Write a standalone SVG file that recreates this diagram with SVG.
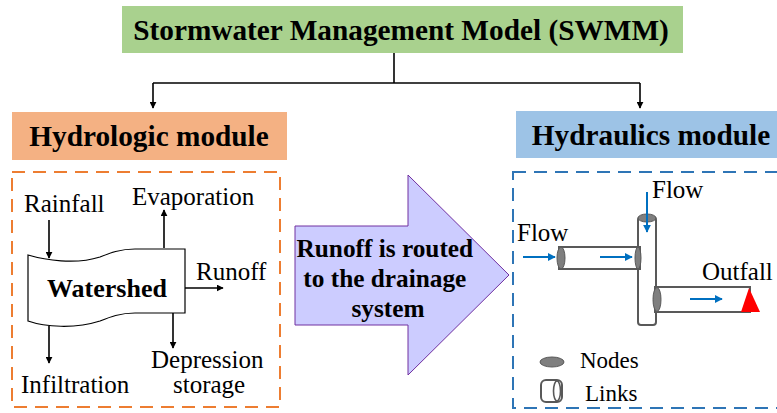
<svg xmlns="http://www.w3.org/2000/svg" width="777" height="413" viewBox="0 0 777 413">
  <style>
    .t { font-family: "Liberation Serif", serif; fill: #000; }
    .b { font-weight: bold; }
    .h { font-size: 29.3px; font-weight: bold; }
    .n { font-size: 25px; }
    .s { font-size: 23px; }
    .blk { stroke: #000; stroke-width: 1.6; fill: none; }
    .blu { stroke: #0070C0; stroke-width: 2; fill: none; }
    .pipe { fill: #fff; stroke: #595959; stroke-width: 2; }
    .node { fill: #7F7F7F; stroke: #595959; stroke-width: 1; }
  </style>
  <defs>
    <marker id="ah" viewBox="0 0 10 10" refX="9" refY="5" markerWidth="7" markerHeight="7" markerUnits="userSpaceOnUse" orient="auto">
      <path d="M0,0 L10,5 L0,10 Z" fill="#000"/>
    </marker>
    <marker id="ahb" viewBox="0 0 10 10" refX="9" refY="5" markerWidth="8" markerHeight="8" markerUnits="userSpaceOnUse" orient="auto">
      <path d="M0,0 L10,5 L0,10 Z" fill="#0070C0"/>
    </marker>
  </defs>

  <!-- top level model -->
  <g id="swmm">
    <rect x="122" y="6" width="561" height="47" fill="#A9D18E"/>
    <text class="t h" x="401" y="40" text-anchor="middle">Stormwater Management Model (SWMM)</text>
  </g>

  <g id="hydrologic">
    <rect x="12" y="112" width="275" height="48" fill="#F4B183"/>
    <text class="t h" x="149" y="146" text-anchor="middle">Hydrologic module</text>
  </g>

  <g id="hydraulics">
    <rect x="516" y="111" width="270" height="47" fill="#9DC3E6"/>
    <text class="t h" x="651" y="145" text-anchor="middle">Hydraulics module</text>
  </g>

  <!-- tree connectors -->
  <g id="connectors">
    <path class="blk" d="M394,53 V83"/>
    <path class="blk" d="M153,83 H640"/>
    <path class="blk" d="M153,83 V108" marker-end="url(#ah)"/>
    <path class="blk" d="M640,83 V108" marker-end="url(#ah)"/>
  </g>

  <!-- hydrologic panel -->
  <g id="hydrologic-panel">
    <rect x="12" y="172" width="268" height="235" fill="none" stroke="#ED7D31" stroke-width="2" stroke-dasharray="13 8"/>
    <path d="M28,255 C45,260 75,265 100,257 C110,253 120,249 135,249 L185,249 L185,313 L135,313 C120,313 110,317 100,321 C75,329 45,327 28,321 Z" fill="#fff" stroke="#000" stroke-width="1.2"/>
    <text class="t b" x="107" y="297" font-size="26" text-anchor="middle">Watershed</text>
    <text class="t n" x="24" y="212">Rainfall</text>
    <text class="t n" x="132" y="205">Evaporation</text>
    <text class="t n" x="196" y="280">Runoff</text>
    <text class="t n" x="21" y="393">Infiltration</text>
    <text class="t n" x="151" y="368">Depression</text>
    <text class="t n" x="173" y="393">storage</text>
    <path class="blk" d="M49,220 V258" marker-end="url(#ah)"/>
    <path class="blk" d="M164,248 V210" marker-end="url(#ah)"/>
    <path class="blk" d="M185,288 H223" marker-end="url(#ah)"/>
    <path class="blk" d="M49,326 V363" marker-end="url(#ah)"/>
    <path class="blk" d="M173,313 V348" marker-end="url(#ah)"/>
  </g>

  <!-- routing arrow -->
  <g id="routing">
    <polygon points="295,226 408,226 408,175 509,275 408,375 408,325 295,325" fill="#CCCCFF" stroke="#7030A0" stroke-width="1"/>
    <text class="t b" font-size="25.3" text-anchor="middle">
      <tspan x="388" y="257">Runoff is routed</tspan>
      <tspan x="388" y="287">to the drainage</tspan>
      <tspan x="388" y="317">system</tspan>
    </text>
  </g>

  <!-- hydraulics panel -->
  <g id="hydraulics-panel">
    <rect x="513" y="172" width="272" height="236" fill="none" stroke="#2E75B6" stroke-width="2" stroke-dasharray="13 8"/>
    <!-- vertical conduit -->
    <rect class="pipe" x="638" y="217" width="18" height="108" rx="3"/>
    <ellipse class="node" cx="647" cy="218" rx="9" ry="4"/>
    <!-- inflow conduit -->
    <rect class="pipe" x="559" y="247" width="81" height="22"/>
    <ellipse class="node" cx="561" cy="258" rx="4" ry="11"/>
    <ellipse class="node" cx="638" cy="258" rx="3" ry="11"/>
    <!-- outlet conduit -->
    <rect class="pipe" x="655" y="287" width="95" height="25"/>
    <ellipse class="node" cx="657" cy="299.5" rx="4" ry="12"/>
    <polygon points="749,288 741,312 760,312" fill="#FF0000"/>
    <path class="blu" d="M647,192 V232" marker-end="url(#ahb)"/>
    <path class="blu" d="M523,257 H555" marker-end="url(#ahb)"/>
    <path class="blu" d="M600,257 H632" marker-end="url(#ahb)"/>
    <path class="blu" d="M690,299 H722" marker-end="url(#ahb)"/>
    <text class="t n" x="652" y="198">Flow</text>
    <text class="t n" x="517" y="241">Flow</text>
    <text class="t n" x="702" y="280">Outfall</text>
    <!-- legend -->
    <ellipse class="node" cx="552" cy="362" rx="12" ry="5"/>
    <text class="t s" x="580" y="368">Nodes</text>
    <rect x="541" y="380" width="21" height="22" rx="5" fill="#fff" stroke="#595959" stroke-width="2"/>
    <ellipse cx="557" cy="391" rx="3.5" ry="10" fill="none" stroke="#595959" stroke-width="1.6"/>
    <text class="t s" x="585" y="401">Links</text>
  </g>
</svg>
